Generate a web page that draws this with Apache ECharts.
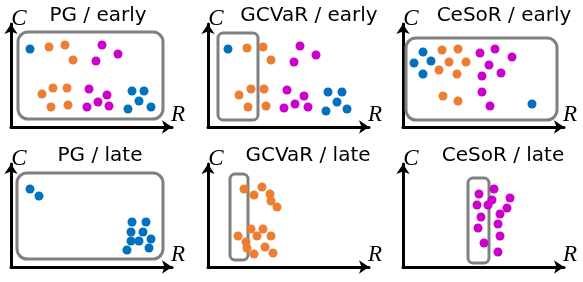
<!DOCTYPE html>
<html><head><meta charset="utf-8">
<script src="https://cdn.jsdelivr.net/npm/echarts@6/dist/echarts.min.js"></script>
<style>html,body{margin:0;padding:0;background:#fff}#c{width:583px;height:282px}</style>
</head><body><div id="c"></div>
<script>
// ---- data (units: local axis coordinates, origin at axis corner) ----
const titles = ['PG / early', 'GCVaR / early', 'CeSoR / early', 'PG / late', 'GCVaR / late', 'CeSoR / late'];
const axisNameY = 'C';
const axisNameX = 'R';

const pgEarlyBlue = [[19,78],[121,36],[133,36],[128,26],[117,18],[140,20]];
const pgEarlyOrange = [[38,80],[54,82],[62,67],[31,33],[42,39],[56,39],[40,20],[57,22]];
const pgEarlyMagenta = [[91,82],[107,73],[85,66],[78,38],[96,32],[87,25],[76,20],[98,21]];
const pgEarlyBox = [7,8,152,95];

const gcvarEarlyBlue = [[20,78],[120,35],[134,35],[129,25],[118,16],[139,18]];
const gcvarEarlyOrange = [[39,79],[55,80],[63,67],[31,32],[43,38],[56,38],[40,20],[58,21]];
const gcvarEarlyMagenta = [[92,81],[108,72],[86,65],[79,37],[96,31],[87,23],[76,19],[100,20]];
const gcvarEarlyBox = [10,7,50,94];

const cesorEarlyBlue = [[20,75],[11,64],[28,66],[20,53],[129,23]];
const cesorEarlyOrange = [[39,77],[55,78],[46,65],[63,65],[36,57],[54,53],[40,31],[55,26]];
const cesorEarlyMagenta = [[77,74],[92,78],[109,70],[86,62],[98,54],[79,51],[79,35],[87,21]];
const cesorEarlyBox = [3,7,154,89];

const pgLateBlue = [[19,78],[28,71],[121,45],[135,45],[120,35],[132,35],[120,26],[128,26],[140,28],[116,17],[138,19]];
const pgLateOrange = [];
const pgLateMagenta = [];
const pgLateBox = [6,8,152,94];

const gcvarLateBlue = [];
const gcvarLateOrange = [[36,78],[46,72],[54,80],[62,73],[63,66],[69,60],[30,31],[43,38],[55,38],[49,31],[63,31],[38,25],[39,19],[57,20],[46,13],[65,14]];
const gcvarLateMagenta = [];
const gcvarLateBox = [22,7,40,93];

const cesorLateBlue = [];
const cesorLateOrange = [];
const cesorLateMagenta = [[76,73],[91,78],[74,62],[85,62],[89,67],[107,69],[104,59],[97,53],[78,50],[95,43],[75,39],[97,31],[81,24],[95,15]];
const cesorLateBox = [65,4,86,89];

// ---- layout / style ----
const COLORS = {blue:'#0070C0', orange:'#ED7D31', magenta:'#CC00CC'};
const AXW = 161, AXH = 103;
const origins = [[11,127],[208,127],[403,127],[11,267],[208,267],[403,267]];
const panels = [
  {blue:pgEarlyBlue, orange:pgEarlyOrange, magenta:pgEarlyMagenta, box:pgEarlyBox},
  {blue:gcvarEarlyBlue, orange:gcvarEarlyOrange, magenta:gcvarEarlyMagenta, box:gcvarEarlyBox},
  {blue:cesorEarlyBlue, orange:cesorEarlyOrange, magenta:cesorEarlyMagenta, box:cesorEarlyBox},
  {blue:pgLateBlue, orange:pgLateOrange, magenta:pgLateMagenta, box:pgLateBox},
  {blue:gcvarLateBlue, orange:gcvarLateOrange, magenta:gcvarLateMagenta, box:gcvarLateBox},
  {blue:cesorLateBlue, orange:cesorLateOrange, magenta:cesorLateMagenta, box:cesorLateBox}
];

const grid = [], xAxis = [], yAxis = [], series = [], graphic = [];
const axisLine = {show:true, symbol:['none','arrow'], symbolSize:[10,10], lineStyle:{color:'#000', width:3}};
panels.forEach((p, i) => {
  const [ox, oy] = origins[i];
  grid.push({left:ox, top:oy-AXH, width:AXW, height:AXH});
  xAxis.push({gridIndex:i, type:'value', min:0, max:AXW, axisLine, axisTick:{show:false}, axisLabel:{show:false}, splitLine:{show:false}});
  yAxis.push({gridIndex:i, type:'value', min:0, max:AXH, axisLine, axisTick:{show:false}, axisLabel:{show:false}, splitLine:{show:false}});
  series.push({
    type:'custom', xAxisIndex:i, yAxisIndex:i, z:1, clip:false, silent:true,
    data:[p.box],
    renderItem:(params, api) => {
      const a = api.coord([api.value(0), api.value(1)]);
      const b = api.coord([api.value(2), api.value(3)]);
      const w = b[0]-a[0], h = a[1]-b[1];
      return {type:'rect', shape:{x:a[0], y:b[1], width:w, height:h, r: w > 100 ? 10 : 5},
              style:{fill:'none', stroke:'#808080', lineWidth:3}};
    }
  });
  ['blue','orange','magenta'].forEach(c => {
    if (p[c].length) series.push({type:'scatter', xAxisIndex:i, yAxisIndex:i, z:2, data:p[c],
      symbolSize:9, itemStyle:{color:COLORS[c], opacity:1}, silent:true});
  });
});

const titleCenters = [98, 309, 504, 100, 308, 503];
titles.forEach((t, i) => {
  const [ox, oy] = origins[i];
  graphic.push({type:'text', x:titleCenters[i], y:oy-111, style:{text:t, fill:'#000',
    fontSize:20, fontFamily:'DejaVu Sans', textAlign:'center', textVerticalAlign:'middle'}});
  graphic.push({type:'text', x:ox+8, y:oy-108, style:{text:axisNameY, fill:'#000',
    fontSize:23, fontStyle:'italic', fontFamily:'Liberation Serif', textAlign:'center', textVerticalAlign:'middle'}});
  graphic.push({type:'text', x:ox+167, y:oy-12, style:{text:axisNameX, fill:'#000',
    fontSize:23, fontStyle:'italic', fontFamily:'Liberation Serif', textAlign:'center', textVerticalAlign:'middle'}});
});

const chart = echarts.init(document.getElementById('c'), null, {renderer:'canvas'});
chart.setOption({animation:false, backgroundColor:'#fff', grid, xAxis, yAxis, series, graphic});
</script></body></html>
